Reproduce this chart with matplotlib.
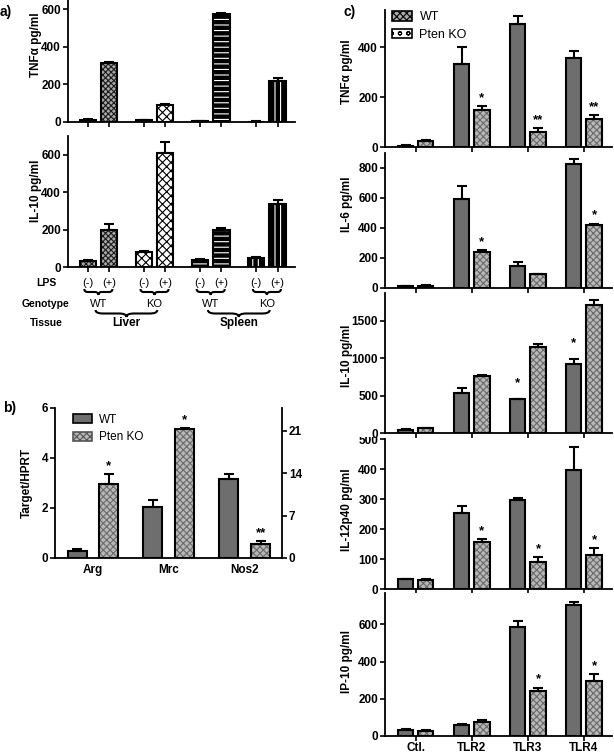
import numpy as np
import matplotlib.pyplot as plt
from matplotlib.patches import Patch, PathPatch
from matplotlib.path import Path
from matplotlib.transforms import blended_transform_factory, Bbox, TransformedBbox

plt.rcParams['font.family'] = ['Liberation Sans', 'DejaVu Sans']
plt.rcParams['font.weight'] = 'bold'
plt.rcParams['hatch.linewidth'] = 0.8

W, H = 614, 753

# ---------------- panel a data ----------------
a_lps = ['(-)', '(+)']
a_genotype = ['WT', 'KO', 'WT', 'KO']
a_tissue = ['Liver', 'Spleen']
a_tnf = [12, 312, 10, 92, 5, 575, 2, 220]
a_tnf_err = [3, 8, 3, 6, 2, 5, 1, 12]
a_il10 = [30, 200, 78, 608, 38, 197, 47, 335]
a_il10_err = [8, 30, 5, 60, 3, 14, 4, 25]
a_tnf_ticks = [0, 200, 400, 600]
a_il10_ticks = [0, 200, 400, 600]

# ---------------- panel b data ----------------
b_genes = ['Arg', 'Mrc', 'Nos2']
b_wt = [0.3, 2.05, 3.15]
b_wt_err = [0.05, 0.28, 0.22]
b_ko = [2.95, 5.15, 0.55]
b_ko_err = [0.4, 0.05, 0.12]
b_ko_stars = ['*', '*', '**']
b_left_ticks = [0, 2, 4, 6]
b_right_ticks = [0, 7, 14, 21]

# ---------------- panel c data ----------------
c_groups = ['Ctl.', 'TLR2', 'TLR3', 'TLR4']

c_tnf_wt = [5, 332, 492, 357]
c_tnf_wt_err = [2, 67, 33, 28]
c_tnf_ko = [25, 148, 61, 113]
c_tnf_ko_err = [3, 15, 14, 14]
c_tnf_wt_stars = ['', '', '', '']
c_tnf_ko_stars = ['', '*', '**', '**']
c_tnf_ticks = [0, 200, 400]

c_il6_wt = [13, 593, 149, 827]
c_il6_wt_err = [3, 85, 25, 30]
c_il6_ko = [15, 242, 92, 420]
c_il6_ko_err = [3, 10, 4, 10]
c_il6_wt_stars = ['', '', '', '']
c_il6_ko_stars = ['', '*', '', '*']
c_il6_ticks = [0, 200, 400, 600, 800]

c_il10_wt = [40, 537, 449, 920]
c_il10_wt_err = [8, 60, 8, 65]
c_il10_ko = [62, 760, 1151, 1702]
c_il10_ko_err = [8, 20, 35, 65]
c_il10_wt_stars = ['', '', '*', '*']
c_il10_ko_stars = ['', '', '', '']
c_il10_ticks = [0, 500, 1000, 1500]

c_il12_wt = [32, 254, 297, 397]
c_il12_wt_err = [2, 24, 5, 77]
c_il12_ko = [30, 156, 91, 113]
c_il12_ko_err = [2, 11, 15, 23]
c_il12_wt_stars = ['', '', '', '']
c_il12_ko_stars = ['', '*', '*', '*']
c_il12_ticks = [0, 100, 200, 300, 400, 500]

c_ip10_wt = [32, 59, 585, 704]
c_ip10_wt_err = [3, 6, 30, 18]
c_ip10_ko = [28, 76, 242, 295]
c_ip10_ko_err = [5, 10, 18, 39]
c_ip10_wt_stars = ['', '', '', '']
c_ip10_ko_stars = ['', '', '*', '*']
c_ip10_ticks = [0, 200, 400, 600]

WT_GRAY = '#6e6e6e'
KO_GRAY = '#b8b8b8'


def rect(x0, x1, y0, y1):
    return [x0 / W, 1 - y1 / H, (x1 - x0) / W, (y1 - y0) / H]


def style(ax, ticks, ylim):
    for s in ['top', 'right']:
        ax.spines[s].set_visible(False)
    ax.spines['left'].set_linewidth(1.3)
    ax.spines['bottom'].set_linewidth(1.3)
    ax.tick_params(width=1.2, length=3.5, labelsize=8.5, direction='out', pad=1.5)
    ax.set_yticks(ticks)
    ax.set_ylim(0, ylim)


def bars(ax, x, h, width, face, hatch=None, hcolor='black'):
    if hatch:
        ax.bar(x, h, width, color=face, edgecolor=hcolor, hatch=hatch,
               linewidth=0, zorder=2)
        ax.bar(x, h, width, facecolor='none', edgecolor='black',
               linewidth=1.5, zorder=3)
    else:
        ax.bar(x, h, width, color=face, edgecolor='black', linewidth=1.5, zorder=2)


def errs(ax, x, h, e):
    ax.errorbar(x, h, yerr=[np.zeros(len(e)), e], fmt='none', ecolor='black',
                elinewidth=1.5, capsize=3.5, capthick=1.5, zorder=4)


def stars(ax, x, h, e, labels, off):
    for xi, hi, ei, s in zip(x, h, e, labels):
        if s:
            ax.annotate(s, (xi, hi + ei), xytext=(0, off), textcoords='offset points',
                        ha='center', va='bottom', fontsize=9.5, fontweight='bold')


fig = plt.figure(figsize=(W / 100, H / 100), dpi=100)

# ================= panel a =================
a_x = np.arange(4)
a_off, a_w = 0.19, 0.29
a_pos = np.ravel(np.column_stack([a_x - a_off, a_x + a_off]))
a_face = ['#a8a8a8', 'white', 'black', 'black']
a_hatch = ['xxxxxx', 'xxxx', '---', '|||']
a_hcol = ['#1a1a1a', 'black', 'white', 'white']

ax_a1 = fig.add_axes(rect(68, 295, 0, 122))
ax_a2 = fig.add_axes(rect(68, 295, 136, 267))
for ax, vals, err, ticks, ylim, lab, ly in [
        (ax_a1, a_tnf, a_tnf_err, a_tnf_ticks, 650, 'TNFα pg/ml', 0.63),
        (ax_a2, a_il10, a_il10_err, a_il10_ticks, 700, 'IL-10 pg/ml', 0.58)]:
    for g in range(4):
        idx = [2 * g, 2 * g + 1]
        bars(ax, a_pos[idx], np.array(vals)[idx], a_w, a_face[g], a_hatch[g], a_hcol[g])
    errs(ax, a_pos, vals, err)
    style(ax, ticks, ylim)
    ax.set_xlim(-0.54, 3.5)
    ax.set_xticks(a_pos)
    ax.set_xticklabels([])
    ax.set_ylabel(lab, fontsize=8.5, fontweight='bold')
    ax.yaxis.set_label_coords(-0.115, ly)

# ================= panel b =================
b_x = np.arange(3)
b_off, b_w = 0.21, 0.25
ax_b = fig.add_axes(rect(55, 282, 408, 558))
bars(ax_b, b_x - b_off, b_wt, b_w, WT_GRAY)
bars(ax_b, b_x + b_off, b_ko, b_w, KO_GRAY, 'xxxxx', '#6a6a6a')
errs(ax_b, b_x - b_off, b_wt, b_wt_err)
errs(ax_b, b_x + b_off, b_ko, b_ko_err)
stars(ax_b, b_x + b_off, b_ko, b_ko_err, b_ko_stars, 1.5)
style(ax_b, b_left_ticks, 6)
ax_b.set_xlim(-0.5, 2.49)
ax_b.set_xticks(b_x)
ax_b.set_xticklabels(b_genes, fontsize=8.5)
ax_b.tick_params(axis='x', length=0, pad=4)
ax_b.set_ylabel('Target/HPRT', fontsize=8.5, fontweight='bold')
ax_b.yaxis.set_label_coords(-0.097, 0.5)
ax_b2 = ax_b.twinx()
for s in ['top', 'left', 'bottom']:
    ax_b2.spines[s].set_visible(False)
ax_b2.spines['right'].set_linewidth(1.3)
ax_b2.set_ylim(0, 24.8)
ax_b2.set_yticks(b_right_ticks)
ax_b2.tick_params(width=1.2, length=3.5, labelsize=8.5, pad=1.5)
ax_b.legend(handles=[Patch(facecolor=WT_GRAY, edgecolor='black', linewidth=1.2),
                     Patch(facecolor=KO_GRAY, edgecolor='#555555', hatch='xxxxx', linewidth=1.2)],
            labels=['WT', 'Pten KO'], frameon=False, loc='upper left',
            bbox_to_anchor=(73 / W, 1 - 414 / H), bbox_transform=fig.transFigure,
            borderpad=0, borderaxespad=0, handlelength=1.6, handleheight=0.8,
            labelspacing=0.45, handletextpad=0.6, prop={'size': 8.5, 'weight': 'normal'})

# ================= panel c =================
c_x = np.arange(4)
c_off, c_w = 0.18, 0.27
c_panels = [
    ('TNFα pg/ml', c_tnf_wt, c_tnf_wt_err, c_tnf_ko, c_tnf_ko_err,
     c_tnf_wt_stars, c_tnf_ko_stars, c_tnf_ticks),
    ('IL-6 pg/ml', c_il6_wt, c_il6_wt_err, c_il6_ko, c_il6_ko_err,
     c_il6_wt_stars, c_il6_ko_stars, c_il6_ticks),
    ('IL-10 pg/ml', c_il10_wt, c_il10_wt_err, c_il10_ko, c_il10_ko_err,
     c_il10_wt_stars, c_il10_ko_stars, c_il10_ticks),
    ('IL-12p40 pg/ml', c_il12_wt, c_il12_wt_err, c_il12_ko, c_il12_ko_err,
     c_il12_wt_stars, c_il12_ko_stars, c_il12_ticks),
    ('IP-10 pg/ml', c_ip10_wt, c_ip10_wt_err, c_ip10_ko, c_ip10_ko_err,
     c_ip10_wt_stars, c_ip10_ko_stars, c_ip10_ticks),
]
c_boxes = [(9.5, 147), (153, 288), (292.75, 433), (439, 589), (592.6, 736)]
c_ylims = [550, 900, 1870, 500, 770]
c_label_y = [0.545, 0.62, 0.55, 0.53, 0.52]
c_star_off = [1.5, 1.5, 7, 1.5, 1.5]

c_axes = []
for i, (lab, wt, wte, ko, koe, wst, kst, ticks) in enumerate(c_panels):
    ax = fig.add_axes(rect(385, 612, *c_boxes[i]))
    bars(ax, c_x - c_off, wt, c_w, WT_GRAY)
    bars(ax, c_x + c_off, ko, c_w, KO_GRAY, 'xxxxx', '#6a6a6a')
    errs(ax, c_x - c_off, wt, wte)
    errs(ax, c_x + c_off, ko, koe)
    stars(ax, c_x - c_off, wt, wte, wst, c_star_off[i])
    stars(ax, c_x + c_off, ko, koe, kst, c_star_off[i])
    style(ax, ticks, c_ylims[i])
    ax.set_xlim(-0.55, 3.5)
    ax.set_xticks(c_x)
    if i < 4:
        ax.set_xticklabels([])
    else:
        ax.set_xticklabels(c_groups, fontsize=8.5)
        ax.tick_params(axis='x', pad=0.5)
    ax.set_ylabel(lab, fontsize=8.5, fontweight='bold')
    ax.yaxis.set_label_coords(-0.141, c_label_y[i])
    c_axes.append(ax)

# the top "500" of IL-12p40 is partly hidden under the IL-10 panel, as in the source
clip = TransformedBbox(Bbox([[0, 0], [1, 1 - 437 / H]]), fig.transFigure)
top_tick = c_axes[3].yaxis.get_major_ticks()[-1].label1
top_tick.set_clip_box(clip)
top_tick.set_clip_on(True)

c_axes[0].legend(handles=[Patch(facecolor='#a8a8a8', edgecolor='black', hatch='xxxxx', linewidth=1.2),
                          Patch(facecolor='white', edgecolor='black', hatch='oo', linewidth=1.2)],
                 labels=['WT', 'Pten KO'], frameon=False, loc='upper left',
                 bbox_to_anchor=(392 / W, 1 - 11 / H), bbox_transform=fig.transFigure,
                 borderpad=0, borderaxespad=0, handlelength=1.6, handleheight=0.8,
                 labelspacing=0.45, handletextpad=0.6, prop={'size': 9, 'weight': 'normal'})

# ================= overlay: labels and braces =================
ov = fig.add_axes([0, 0, 1, 1])
ov.axis('off')
ov.set_xlim(0, W)
ov.set_ylim(H, 0)
tr = blended_transform_factory(ax_a2.transData, ov.transData)


def brace(x0, x1, y, h, lw=1.5):
    xm = (x0 + x1) / 2
    r = (x1 - x0) * 0.12
    ym = y + h / 2
    verts = [(x0, y), (x0, ym), (x0 + r, ym), (xm - r, ym), (xm, ym), (xm, y + h),
             (xm, ym), (xm + r, ym), (x1 - r, ym), (x1, ym), (x1, y)]
    codes = [Path.MOVETO, Path.CURVE3, Path.CURVE3, Path.LINETO, Path.CURVE3, Path.CURVE3,
             Path.CURVE3, Path.CURVE3, Path.LINETO, Path.CURVE3, Path.CURVE3]
    ov.add_patch(PathPatch(Path(verts, codes), transform=tr, facecolor='none',
                           edgecolor='black', lw=lw, clip_on=False))


for i, p in enumerate(a_pos):
    ov.text(p, 283, a_lps[i % 2], transform=tr, ha='center', va='center',
            fontsize=8, fontweight='normal')
for g in a_x:
    brace(g - 0.25, g + 0.25, 289, 6)
    ov.text(g, 304, a_genotype[g], transform=tr, ha='center', va='center',
            fontsize=8, fontweight='normal')
for t in range(2):
    brace(2 * t - 0.05, 2 * t + 1.05, 310, 7)
    ov.text(2 * t + 0.5, 323, a_tissue[t], transform=tr, ha='center', va='center',
            fontsize=8.5, fontweight='bold')

for txt, y in [('LPS', 283), ('Genotype', 304), ('Tissue', 323)]:
    ov.text(46, y, txt, ha='center', va='center', fontsize=7.5, fontweight='bold')

ov.text(0, 12, 'a)', ha='left', va='center', fontsize=10, fontweight='bold')
ov.text(3, 408, 'b)', ha='left', va='center', fontsize=10, fontweight='bold')
ov.text(343, 12, 'c)', ha='left', va='center', fontsize=10, fontweight='bold')

fig.savefig('out.png', dpi=100)
